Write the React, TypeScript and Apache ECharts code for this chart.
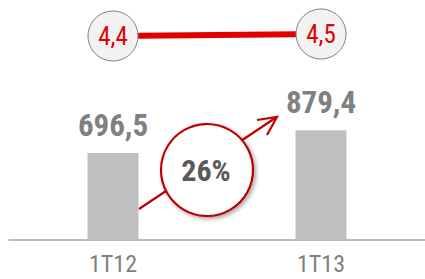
import React, { useEffect, useRef } from "react";
import * as echarts from "echarts";

const categories = ["1T12", "1T13"];
const barValues = [696.5, 879.4];
const lineValues = [4.4, 4.5];
const growthLabel = "26%";

const FONT = "'Roboto Condensed', 'Liberation Sans Narrow', 'Liberation Sans', sans-serif";
const fmt = (v: number) => v.toFixed(1).replace(".", ",");

export default function App() {
  const ref = useRef<HTMLDivElement>(null);
  useEffect(() => {
    if (!ref.current) return;
    const chart = echarts.init(ref.current, undefined, { renderer: "svg" });
    chart.setOption({
      animation: false,
      backgroundColor: "#ffffff",
      grid: [
        { left: 9, right: -3, top: 115.1, bottom: 39 },
        { left: 9, right: -3, top: 24, height: 20 },
      ],
      xAxis: [
        {
          type: "category",
          gridIndex: 0,
          data: categories,
          axisLine: { lineStyle: { color: "#a6a6a6", width: 1.5 } },
          axisTick: { show: false },
          axisLabel: {
            color: "#808080",
            fontFamily: FONT,
            fontSize: 24,
            margin: 13,
            lineHeight: 22,
          },
        },
        {
          type: "category",
          gridIndex: 1,
          data: categories,
          show: false,
        },
      ],
      yAxis: [
        { type: "value", gridIndex: 0, min: 0, max: 1000, show: false },
        { type: "value", gridIndex: 1, min: 4, max: 5, show: false },
      ],
      series: [
        {
          type: "bar",
          xAxisIndex: 0,
          yAxisIndex: 0,
          data: barValues,
          barWidth: 51,
          itemStyle: { color: "#bfbfbf" },
          label: {
            show: true,
            position: "top",
            distance: 12,
            color: "#808080",
            fontFamily: FONT,
            fontWeight: "bold",
            fontSize: 31,
            lineHeight: 31,
            formatter: (p: any) => fmt(p.value),
          },
        },
        {
          type: "line",
          xAxisIndex: 1,
          yAxisIndex: 1,
          data: lineValues,
          symbol: "circle",
          symbolSize: 50,
          lineStyle: { color: "#e00000", width: 6 },
          itemStyle: { color: "#f2f2f2", borderColor: "#808080", borderWidth: 1 },
          label: {
            show: true,
            position: "inside",
            color: "#e00000",
            fontFamily: FONT,
            fontSize: 25,
            formatter: (p: any) => fmt(p.value),
          },
          z: 3,
        },
      ],
      graphic: [
        {
          type: "line",
          shape: { x1: 139, y1: 209, x2: 276, y2: 117.5 },
          style: { stroke: "#c00000", lineWidth: 2.2 },
          z: 10,
        },
        {
          type: "polyline",
          shape: { points: [[257, 120], [277, 117], [267, 135]] },
          style: { stroke: "#c00000", lineWidth: 2.2, fill: null },
          z: 10,
        },
        {
          type: "circle",
          shape: { cx: 207, cy: 170, r: 46 },
          style: {
            fill: "#ffffff",
            stroke: "#c00000",
            lineWidth: 2.2,
            shadowBlur: 4,
            shadowOffsetX: 2,
            shadowOffsetY: 2,
            shadowColor: "rgba(0,0,0,0.35)",
          },
          z: 11,
        },
        {
          type: "text",
          x: 206,
          y: 170,
          style: {
            text: growthLabel,
            fill: "#595959",
            font: `bold 30px ${FONT}`,
            align: "center",
            verticalAlign: "middle",
          },
          z: 12,
        },
      ],
    });
    return () => chart.dispose();
  }, []);
  return <div ref={ref} style={{ width: 425, height: 279, position: "absolute", left: 0, top: 0 }} />;
}
